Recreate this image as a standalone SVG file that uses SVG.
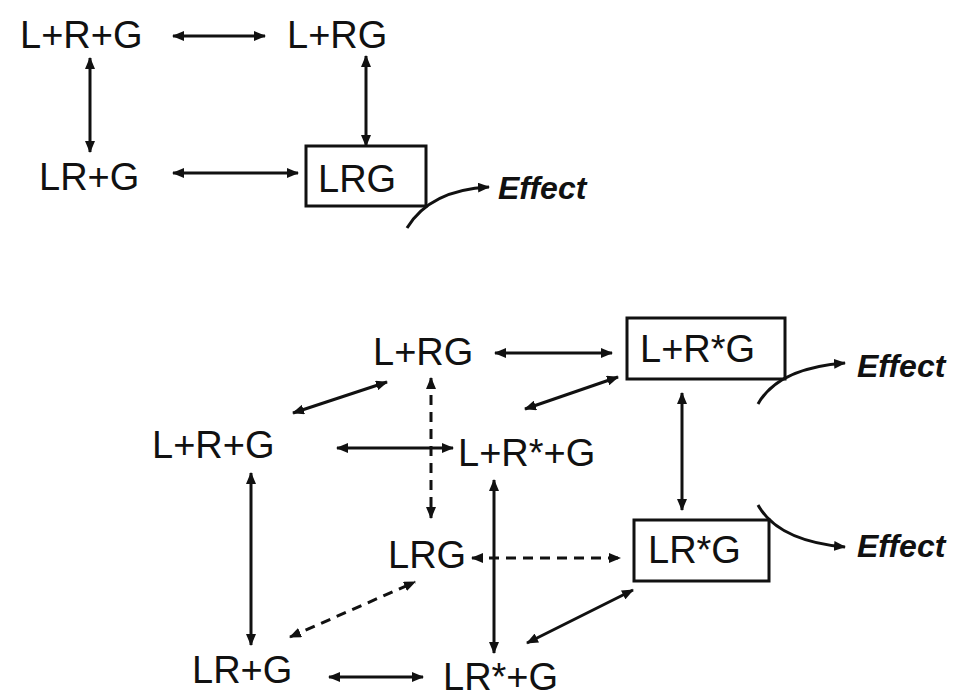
<svg xmlns="http://www.w3.org/2000/svg" width="955" height="699" viewBox="0 0 955 699">
<style>
.t{font-family:"Liberation Sans",Arial,sans-serif;font-size:38px;fill:#111}
.e{font-family:"Liberation Sans",Arial,sans-serif;font-size:32px;font-weight:bold;font-style:italic;fill:#111}
.box{fill:none;stroke:#111;stroke-width:3}
.c{fill:none;stroke:#111;stroke-width:3;marker-start:url(#ah);marker-end:url(#ah)}
.d{stroke-dasharray:10,7}
.one{fill:none;stroke:#111;stroke-width:3;marker-end:url(#ah)}
</style>
<defs>
<marker id="ah" markerUnits="userSpaceOnUse" markerWidth="12" markerHeight="10" refX="11" refY="5" orient="auto-start-reverse">
<path d="M0,0 L12,5 L0,10 z" fill="#111"/>
</marker>
</defs>
<rect width="955" height="699" fill="#fff"/>
<g id="connectors">
<line class="c" x1="173" y1="36" x2="265" y2="36"/>
<line class="c" x1="90" y1="58" x2="90" y2="152"/>
<line class="c" x1="366" y1="56" x2="366" y2="146"/>
<line class="c" x1="173" y1="173" x2="298" y2="173"/>
<path class="one" d="M407,228 Q430,190 489,187"/>
<line class="c" x1="495" y1="353" x2="612" y2="353"/>
<line class="c" x1="293" y1="413" x2="387" y2="382"/>
<line class="c d" x1="431" y1="378" x2="431" y2="518"/>
<line class="c" x1="525" y1="409" x2="618" y2="377"/>
<line class="c" x1="337" y1="448" x2="453" y2="448"/>
<line class="c" x1="251" y1="473" x2="251" y2="645"/>
<line class="c" x1="494" y1="480" x2="494" y2="653"/>
<line class="c d" x1="472" y1="558" x2="620" y2="558"/>
<line class="c d" x1="290" y1="637" x2="415" y2="582"/>
<line class="c" x1="527" y1="643" x2="633" y2="590"/>
<line class="c" x1="329" y1="677" x2="423" y2="677"/>
<line class="c" x1="682" y1="393" x2="682" y2="510"/>
<path class="one" d="M758,404 Q778,368 845,363"/>
<path class="one" d="M758,505 Q778,541 845,547"/>
</g>
<g id="top-LpRpG"><text class="t" x="20" y="48">L+R+G</text></g>
<g id="top-LpRG"><text class="t" x="287" y="48">L+RG</text></g>
<g id="top-LRpG"><text class="t" x="39" y="190">LR+G</text></g>
<g id="top-LRG"><rect class="box" x="306" y="146" width="120" height="60"/><text class="t" x="318" y="192">LRG</text></g>
<g id="top-effect"><text class="e" x="498" y="199">Effect</text></g>
<g id="b-LpRG"><text class="t" x="373" y="365">L+RG</text></g>
<g id="b-LpRsG"><rect class="box" x="627" y="318" width="158" height="61"/><text class="t" x="640" y="362">L+R*G</text></g>
<g id="b-LpRpG"><text class="t" x="152" y="458">L+R+G</text></g>
<g id="b-LpRspG"><text class="t" x="458" y="466">L+R*+G</text></g>
<g id="b-LRG"><text class="t" x="388" y="568">LRG</text></g>
<g id="b-LRsG"><rect class="box" x="634" y="520" width="135" height="61"/><text class="t" x="648" y="563">LR*G</text></g>
<g id="b-LRpG"><text class="t" x="192" y="683">LR+G</text></g>
<g id="b-LRspG"><text class="t" x="443" y="690">LR*+G</text></g>
<g id="b-effect1"><text class="e" x="857" y="377">Effect</text></g>
<g id="b-effect2"><text class="e" x="857" y="557">Effect</text></g>
</svg>
